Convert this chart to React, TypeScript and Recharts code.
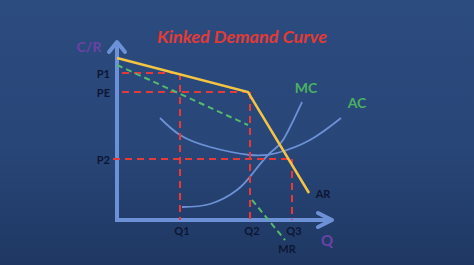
import React from "react";
import {
  ComposedChart,
  Line,
  XAxis,
  YAxis,
  ReferenceLine,
  ReferenceDot,
} from "recharts";

// kinked demand (AR) and its broken MR
const arCurve = [
  { x: 0, y: 162 },
  { x: 131, y: 128 },
  { x: 192, y: 27 },
];
const mrUpper = [
  { x: 0, y: 155 },
  { x: 131, y: 95 },
];
const mrLower = [
  { x: 135, y: 20 },
  { x: 168, y: -20 },
];

// cost curves
const mcCurve = [
  { x: 65, y: 13 },
  { x: 93, y: 16 },
  { x: 120, y: 30 },
  { x: 136, y: 47 },
  { x: 153, y: 67 },
  { x: 166, y: 80 },
  { x: 185, y: 118 },
];
const acCurve = [
  { x: 43, y: 102 },
  { x: 63, y: 85 },
  { x: 93, y: 73 },
  { x: 133, y: 65 },
  { x: 160, y: 67 },
  { x: 193, y: 80 },
  { x: 224, y: 102 },
];

// price / quantity levels
const priceLabels = ["P1", "PE", "P2"];
const priceValues = [147, 128, 61];
const qtyLabels = ["Q1", "Q2", "Q3"];
const qtyValues = [63, 133, 175];

const AXIS = "#6d91d6";
const RED = "#e5393a";
const GREEN = "#56b96e";
const DARK = "#0c1633";
const PURPLE = "#6b42a6";
const FONT = "Lato, 'Open Sans', sans-serif";

const textAt = (
  key: string,
  x: number,
  y: number,
  value: string,
  style: React.SVGProps<SVGTextElement>
) => (
  <ReferenceDot
    key={key}
    x={x}
    y={y}
    ifOverflow="visible"
    shape={(p: any) => (
      <text
        x={p.cx}
        y={p.cy}
        dominantBaseline="central"
        fontFamily={FONT}
        fontWeight="bold"
        {...style}
      >
        {value}
      </text>
    )}
  />
);

export default function App() {
  return (
    <div
      style={{
        position: "fixed",
        left: 0,
        top: 0,
        width: 474,
        height: 265,
        background: "linear-gradient(180deg, #2c4b7e 0%, #284678 55%, #1f3863 100%)",
      }}
    >
      <ComposedChart
        width={474}
        height={265}
        margin={{ top: 40, right: 117, bottom: 0, left: 117 }}
      >
        <XAxis type="number" dataKey="x" domain={[0, 240]} hide />
        <YAxis type="number" dataKey="y" domain={[-45, 180]} hide />

        {/* axes */}
        <ReferenceLine
          segment={[{ x: 0, y: -1 }, { x: 0, y: 177 }]}
          stroke={AXIS}
          strokeWidth={4}
          ifOverflow="visible"
        />
        <ReferenceLine
          segment={[{ x: -2, y: 0 }, { x: 214, y: 0 }]}
          stroke={AXIS}
          strokeWidth={4}
          ifOverflow="visible"
        />
        <ReferenceDot
          x={0}
          y={178}
          ifOverflow="visible"
          shape={(p: any) => (
            <polyline
              points={`${p.cx - 8},${p.cy + 10} ${p.cx},${p.cy} ${p.cx + 8},${p.cy + 10}`}
              fill="none"
              stroke={AXIS}
              strokeWidth={4}
              strokeLinecap="round"
              strokeLinejoin="round"
            />
          )}
        />
        <ReferenceDot
          x={215}
          y={0}
          ifOverflow="visible"
          shape={(p: any) => (
            <polyline
              points={`${p.cx - 14},${p.cy - 7} ${p.cx},${p.cy} ${p.cx - 14},${p.cy + 7}`}
              fill="none"
              stroke={AXIS}
              strokeWidth={4}
              strokeLinecap="round"
              strokeLinejoin="round"
            />
          )}
        />

        {/* cost curves */}
        <Line
          data={acCurve}
          dataKey="y"
          type="natural"
          stroke={AXIS}
          strokeWidth={1.8}
          dot={false}
          isAnimationActive={false}
        />
        <Line
          data={mcCurve}
          dataKey="y"
          type="natural"
          stroke={AXIS}
          strokeWidth={1.8}
          dot={false}
          isAnimationActive={false}
        />

        {/* guide lines */}
        {priceValues.map((p, i) => (
          <ReferenceLine
            key={`h${i}`}
            segment={[
              { x: i === 2 ? -4 : 5, y: p },
              { x: qtyValues[i], y: p },
            ]}
            stroke={RED}
            strokeWidth={2}
            strokeDasharray="7 5"
            ifOverflow="visible"
          />
        ))}
        {qtyValues.map((q, i) => (
          <ReferenceLine
            key={`v${i}`}
            segment={[
              { x: q, y: priceValues[i] },
              { x: q, y: 0 },
            ]}
            stroke={RED}
            strokeWidth={2}
            strokeDasharray="7 5"
            ifOverflow="visible"
          />
        ))}

        {/* MR */}
        <Line
          data={mrUpper}
          dataKey="y"
          type="linear"
          stroke={GREEN}
          strokeWidth={2}
          strokeDasharray="6 4"
          dot={false}
          isAnimationActive={false}
        />
        <Line
          data={mrLower}
          dataKey="y"
          type="linear"
          stroke={GREEN}
          strokeWidth={2}
          strokeDasharray="6 4"
          dot={false}
          isAnimationActive={false}
        />

        {/* AR */}
        <Line
          data={arCurve}
          dataKey="y"
          type="linear"
          stroke="#f4c443"
          strokeWidth={2.5}
          dot={false}
          isAnimationActive={false}
        />

        {/* labels */}
        {priceLabels.map((l, i) =>
          textAt(`pl${i}`, -7, priceValues[i], l, {
            fontSize: 11,
            fill: DARK,
            textAnchor: "end",
          })
        )}
        {qtyLabels.map((l, i) =>
          textAt(`ql${i}`, qtyValues[i] + 2, -10, l, {
            fontSize: 11,
            fill: DARK,
            textAnchor: "middle",
          })
        )}
        {textAt("title", 125, 184, "Kinked Demand Curve", {
          fontSize: 17,
          fill: "#e23a37",
          fontStyle: "italic",
          textAnchor: "middle",
          textLength: 170,
          lengthAdjust: "spacingAndGlyphs",
        })}
        {textAt("cr", -28, 174, "C/R", {
          fontSize: 14,
          fill: PURPLE,
          textAnchor: "middle",
        })}
        {textAt("q", 210, -20, "Q", {
          fontSize: 15,
          fill: PURPLE,
          textAnchor: "middle",
        })}
        {textAt("mc", 189, 133, "MC", {
          fontSize: 14,
          fill: "#4bb062",
          textAnchor: "middle",
        })}
        {textAt("ac", 240, 118, "AC", {
          fontSize: 14,
          fill: "#4bb062",
          textAnchor: "middle",
        })}
        {textAt("ar", 206, 27, "AR", {
          fontSize: 11,
          fill: DARK,
          textAnchor: "middle",
        })}
        {textAt("mr", 170, -28, "MR", {
          fontSize: 11,
          fill: DARK,
          textAnchor: "middle",
        })}
      </ComposedChart>
    </div>
  );
}
